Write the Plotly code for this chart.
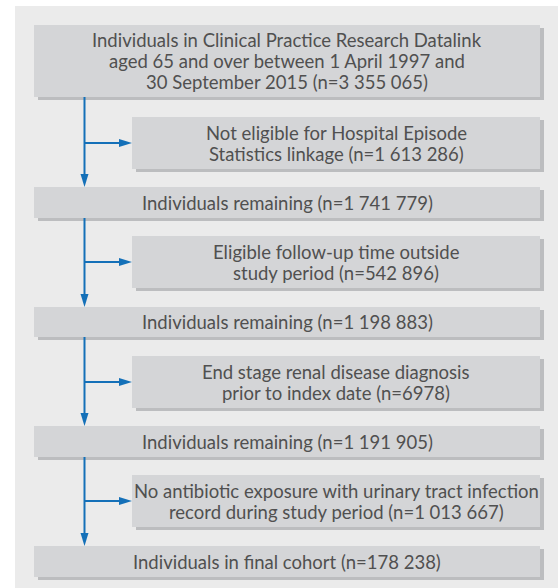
import plotly.graph_objects as go

# ---- data (texts of the flow chart) ----
main_texts = [
    ["Individuals in Clinical Practice Research Datalink",
     "aged 65 and over between 1 April 1997 and",
     "30 September 2015 (n=3 355 065)"],
    ["Individuals remaining (n=1 741 779)"],
    ["Individuals remaining (n=1 198 883)"],
    ["Individuals remaining (n=1 191 905)"],
    ["Individuals in final cohort (n=178 238)"],
]
excl_texts = [
    ["Not eligible for Hospital Episode", "Statistics linkage (n=1 613 286)"],
    ["Eligible follow-up time outside", "study period (n=542 896)"],
    ["End stage renal disease diagnosis", "prior to index date (n=6978)"],
    ["No antibiotic exposure with urinary tract infection",
     "record during study period (n=1 013 667)"],
]

# ---- layout geometry (pixels) ----
W, H = 558, 588
main_x = (34, 540)
excl_x = (132, 540)
main_y = [(25, 97), (187, 218), (307, 337), (426, 457), (546, 577)]
excl_y = [(117, 169), (236, 288), (356, 408), (475, 527)]
spine_x = 84.5

BOX = "#d4d5d7"
SHADOW = "#bcbdbf"
PANEL = "#ebebeb"
BLUE = "#1470b8"
TXT = "#505050"
FONT = "Lato"
FS = 18.5
LH = 21

fig = go.Figure()
shapes = []
annots = []

# panel
shapes.append(dict(type="rect", x0=15, x1=558, y0=6, y1=588, fillcolor=PANEL, line_width=0, layer="below"))

def box(x0, x1, y0, y1, lines):
    shapes.append(dict(type="rect", x0=x0 + 4, x1=x1 + 4, y0=y0 + 3, y1=y1 + 3,
                       fillcolor=SHADOW, line_width=0, layer="below"))
    shapes.append(dict(type="rect", x0=x0, x1=x1, y0=y0, y1=y1,
                       fillcolor=BOX, line_width=0, layer="below"))
    yc = (y0 + y1) / 2
    n = len(lines)
    for i, t in enumerate(lines):
        annots.append(dict(x=(x0 + x1) / 2, y=yc + (i - (n - 1) / 2) * LH, text=t,
                           showarrow=False, xref="x", yref="y",
                           xanchor="center", yanchor="middle", align="center",
                           font=dict(family=FONT, size=FS, color=TXT)))

for (y0, y1), t in zip(main_y, main_texts):
    box(main_x[0], main_x[1], y0, y1, t)
for (y0, y1), t in zip(excl_y, excl_texts):
    box(excl_x[0], excl_x[1], y0, y1, t)

AL, AW = 13, 4
for i in range(4):
    ytop = main_y[i][1]
    ybot = main_y[i + 1][0]
    shapes.append(dict(type="line", x0=spine_x, x1=spine_x, y0=ytop, y1=ybot - AL + 1,
                       line=dict(color=BLUE, width=2)))
    shapes.append(dict(type="path",
                       path=f"M {spine_x - AW} {ybot - AL} L {spine_x + AW} {ybot - AL} L {spine_x} {ybot} Z",
                       fillcolor=BLUE, line_width=0))
    ym = (excl_y[i][0] + excl_y[i][1]) / 2
    xe = excl_x[0]
    shapes.append(dict(type="line", x0=spine_x, x1=xe - AL + 1, y0=ym, y1=ym,
                       line=dict(color=BLUE, width=2)))
    shapes.append(dict(type="path",
                       path=f"M {xe - AL} {ym - AW} L {xe - AL} {ym + AW} L {xe} {ym} Z",
                       fillcolor=BLUE, line_width=0))

fig.update_layout(
    width=W, height=H, margin=dict(l=0, r=0, t=0, b=0),
    paper_bgcolor="white", plot_bgcolor="white",
    shapes=shapes, annotations=annots, showlegend=False,
    xaxis=dict(range=[0, W], visible=False, fixedrange=True),
    yaxis=dict(range=[H, 0], visible=False, fixedrange=True),
)
fig.write_html("out.html", config={"displayModeBar": False},
               post_script="document.body.style.margin='0px';document.body.style.overflow='hidden';")
